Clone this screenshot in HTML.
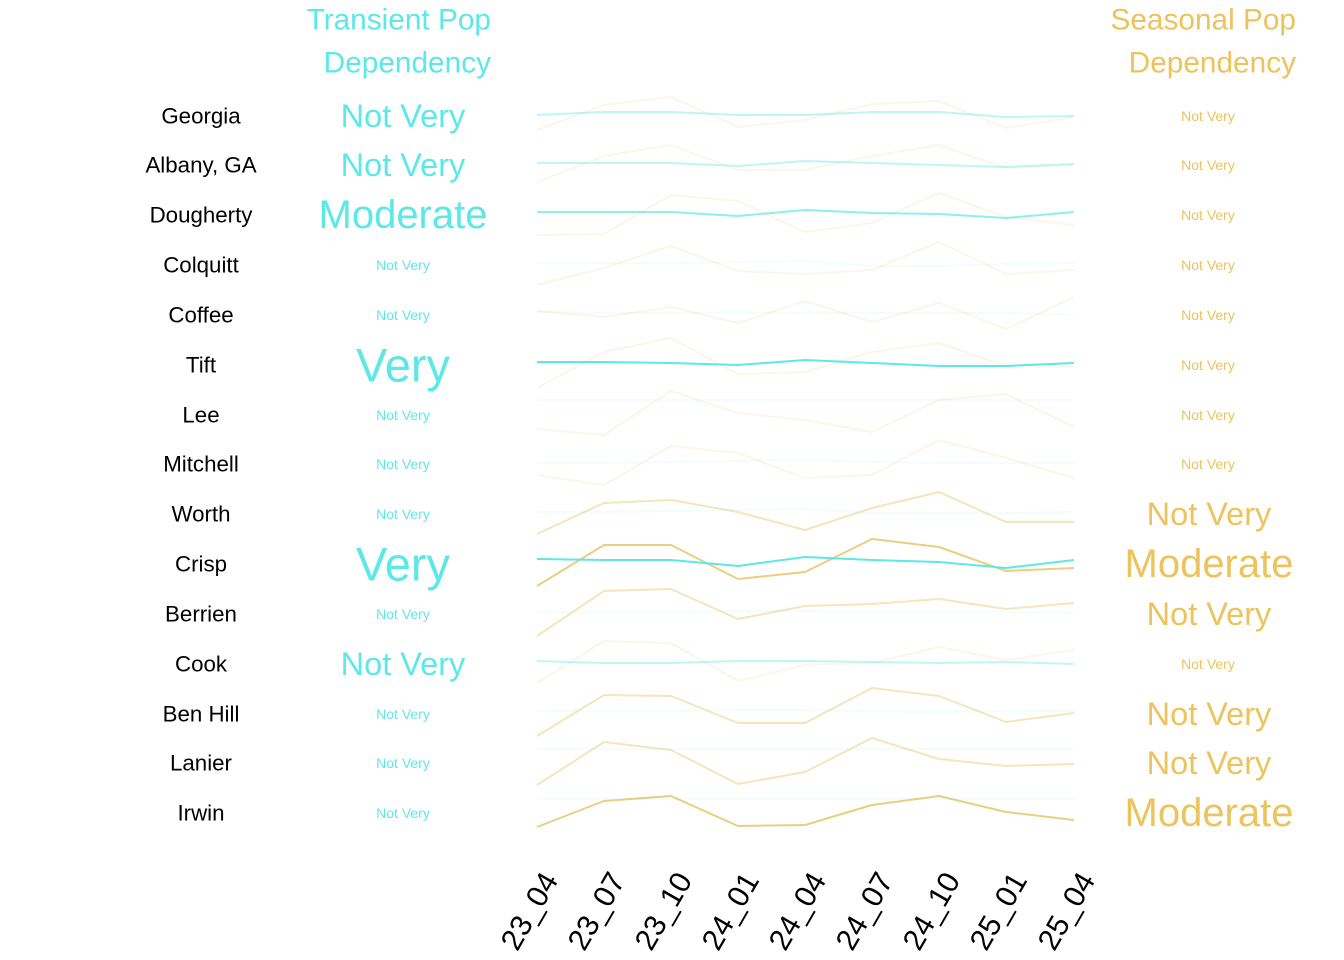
<!DOCTYPE html>
<html><head><meta charset="utf-8"><style>
html,body{margin:0;padding:0;background:#fff;}
svg{display:block;font-family:"Liberation Sans",Arial,sans-serif;}
</style></head><body>
<svg width="1344" height="960" viewBox="0 0 1344 960" xmlns="http://www.w3.org/2000/svg">
<g font-size="29.8" fill="#5de8e8">
<text x="491" y="20" text-anchor="end" dominant-baseline="central">Transient Pop</text>
<text x="491" y="63" text-anchor="end" dominant-baseline="central">Dependency</text>
</g>
<g font-size="29.8" fill="#ecc35c">
<text x="1296" y="20" text-anchor="end" dominant-baseline="central">Seasonal Pop</text>
<text x="1296" y="63" text-anchor="end" dominant-baseline="central">Dependency</text>
</g>
<g font-size="22.3" fill="#000" text-anchor="middle" dominant-baseline="central">
<text x="201" y="116">Georgia</text>
<text x="201" y="165">Albany, GA</text>
<text x="201" y="215">Dougherty</text>
<text x="201" y="265">Colquitt</text>
<text x="201" y="315">Coffee</text>
<text x="201" y="365">Tift</text>
<text x="201" y="415">Lee</text>
<text x="201" y="464">Mitchell</text>
<text x="201" y="514">Worth</text>
<text x="201" y="564">Crisp</text>
<text x="201" y="614">Berrien</text>
<text x="201" y="664">Cook</text>
<text x="201" y="714">Ben Hill</text>
<text x="201" y="763">Lanier</text>
<text x="201" y="813">Irwin</text>
</g>
<g fill="#5de8e8" text-anchor="middle" dominant-baseline="central">
<text x="403" y="116" font-size="32.5">Not Very</text>
<text x="403" y="165" font-size="32.5">Not Very</text>
<text x="403" y="215" font-size="40">Moderate</text>
<text x="403" y="265" font-size="14">Not Very</text>
<text x="403" y="315" font-size="14">Not Very</text>
<text x="403" y="365" font-size="47">Very</text>
<text x="403" y="415" font-size="14">Not Very</text>
<text x="403" y="464" font-size="14">Not Very</text>
<text x="403" y="514" font-size="14">Not Very</text>
<text x="403" y="564" font-size="47">Very</text>
<text x="403" y="614" font-size="14">Not Very</text>
<text x="403" y="664" font-size="32.5">Not Very</text>
<text x="403" y="714" font-size="14">Not Very</text>
<text x="403" y="763" font-size="14">Not Very</text>
<text x="403" y="813" font-size="14">Not Very</text>
</g>
<g fill="#ecc35c" text-anchor="middle" dominant-baseline="central">
<text x="1208" y="116" font-size="14">Not Very</text>
<text x="1208" y="165" font-size="14">Not Very</text>
<text x="1208" y="215" font-size="14">Not Very</text>
<text x="1208" y="265" font-size="14">Not Very</text>
<text x="1208" y="315" font-size="14">Not Very</text>
<text x="1208" y="365" font-size="14">Not Very</text>
<text x="1208" y="415" font-size="14">Not Very</text>
<text x="1208" y="464" font-size="14">Not Very</text>
<text x="1209" y="514" font-size="32.5">Not Very</text>
<text x="1209" y="564" font-size="40">Moderate</text>
<text x="1209" y="614" font-size="32.5">Not Very</text>
<text x="1208" y="664" font-size="14">Not Very</text>
<text x="1209" y="714" font-size="32.5">Not Very</text>
<text x="1209" y="763" font-size="32.5">Not Very</text>
<text x="1209" y="813" font-size="40">Moderate</text>
</g>
<g fill="none" stroke-width="2" stroke-linejoin="round">
<g stroke="#e8c56a">
<polyline stroke-opacity="0.15" points="537,130 604,105 671,97 738,127 805,120 872,104 939,101 1006,128 1074,117"/>
<polyline stroke-opacity="0.15" points="537,182 604,156 671,145 738,170 805,170 872,156 939,145 1006,168 1074,165"/>
<polyline stroke-opacity="0.15" points="537,235 604,234 671,195 738,201 805,232 872,223 939,193 1006,217 1074,225"/>
<polyline stroke-opacity="0.15" points="537,285 604,268 671,246 738,271 805,274 872,270 939,242 1006,274 1074,270"/>
<polyline stroke-opacity="0.15" points="537,311 604,317 671,307 738,323 805,301 872,322 939,303 1006,329 1074,297"/>
<polyline stroke-opacity="0.15" points="537,388 604,352 671,338 738,374 805,372 872,352 939,343 1006,366 1074,367"/>
<polyline stroke-opacity="0.15" points="537,429 604,435 671,391 738,413 805,420 872,432 939,400 1006,394 1074,427"/>
<polyline stroke-opacity="0.15" points="537,475 604,485 671,446 738,453 805,478 872,475 939,440 1006,458 1074,478"/>
<polyline stroke-opacity="0.45" points="537,534 604,503 671,500 738,512 805,530 872,508 939,492 1006,522 1074,522"/>
<polyline stroke-opacity="0.85" points="537,586 604,545 671,545 738,579 805,572 872,539 939,547 1006,571 1074,568"/>
<polyline stroke-opacity="0.45" points="537,636 604,591 671,589 738,619 805,606 872,604 939,599 1006,609 1074,603"/>
<polyline stroke-opacity="0.15" points="537,683 604,641 671,643 738,681 805,665 872,663 939,647 1006,660 1074,650"/>
<polyline stroke-opacity="0.45" points="537,736 604,695 671,696 738,723 805,723 872,688 939,696 1006,722 1074,713"/>
<polyline stroke-opacity="0.45" points="537,785 604,742 671,750 738,784 805,772 872,738 939,759 1006,766 1074,764"/>
<polyline stroke-opacity="0.85" points="537,827 604,801 671,796 738,826 805,825 872,805 939,796 1006,812 1074,820"/>
</g>
<g stroke="#5de8e8">
<polyline stroke-opacity="0.4" points="537,115 604,112 671,112 738,115 805,115 872,112 939,112 1006,117 1074,116"/>
<polyline stroke-opacity="0.4" points="537,163 604,163 671,163 738,166 805,161 872,163 939,165 1006,167 1074,164"/>
<polyline stroke-opacity="0.7" points="537,212 604,212 671,212 738,216 805,210 872,213 939,214 1006,218 1074,212"/>
<polyline stroke-opacity="0.08" points="537,263 604,263 671,263 738,262 805,261 872,266 939,266 1006,264 1074,263"/>
<polyline stroke-opacity="0.08" points="537,312 604,313 671,313 738,312 805,313 872,313 939,313 1006,313 1074,315"/>
<polyline stroke-opacity="1" points="537,362 604,362 671,363 738,365 805,360 872,363 939,366 1006,366 1074,363"/>
<polyline stroke-opacity="0.08" points="537,400 604,400 671,400 738,400 805,400 872,400 939,400 1006,400 1074,400"/>
<polyline stroke-opacity="0.08" points="537,463 604,463 671,462 738,461 805,460 872,462 939,463 1006,463 1074,463"/>
<polyline stroke-opacity="0.08" points="537,512 604,512 671,511 738,510 805,509 872,513 939,513 1006,513 1074,512"/>
<polyline stroke-opacity="1" points="537,559 604,560 671,560 738,566 805,557 872,560 939,562 1006,568 1074,560"/>
<polyline stroke-opacity="0.08" points="537,612 604,612 671,612 738,611 805,611 872,612 939,612 1006,612 1074,613"/>
<polyline stroke-opacity="0.4" points="537,661 604,663 671,663 738,661 805,661 872,662 939,663 1006,662 1074,664"/>
<polyline stroke-opacity="0.08" points="537,711 604,711 671,711 738,710 805,710 872,711 939,712 1006,711 1074,711"/>
<polyline stroke-opacity="0.08" points="537,749 604,749 671,749 738,749 805,749 872,749 939,749 1006,749 1074,749"/>
<polyline stroke-opacity="0.08" points="537,799 604,799 671,799 738,799 805,799 872,799 939,799 1006,799 1074,799"/>
</g>
</g>
<g font-size="30" fill="#000" text-anchor="end">
<text transform="translate(559,880) rotate(-60)">23_04</text>
<text transform="translate(626,880) rotate(-60)">23_07</text>
<text transform="translate(693,880) rotate(-60)">23_10</text>
<text transform="translate(760,880) rotate(-60)">24_01</text>
<text transform="translate(827,880) rotate(-60)">24_04</text>
<text transform="translate(894,880) rotate(-60)">24_07</text>
<text transform="translate(961,880) rotate(-60)">24_10</text>
<text transform="translate(1028,880) rotate(-60)">25_01</text>
<text transform="translate(1096,880) rotate(-60)">25_04</text>
</g>
</svg>
</body></html>
